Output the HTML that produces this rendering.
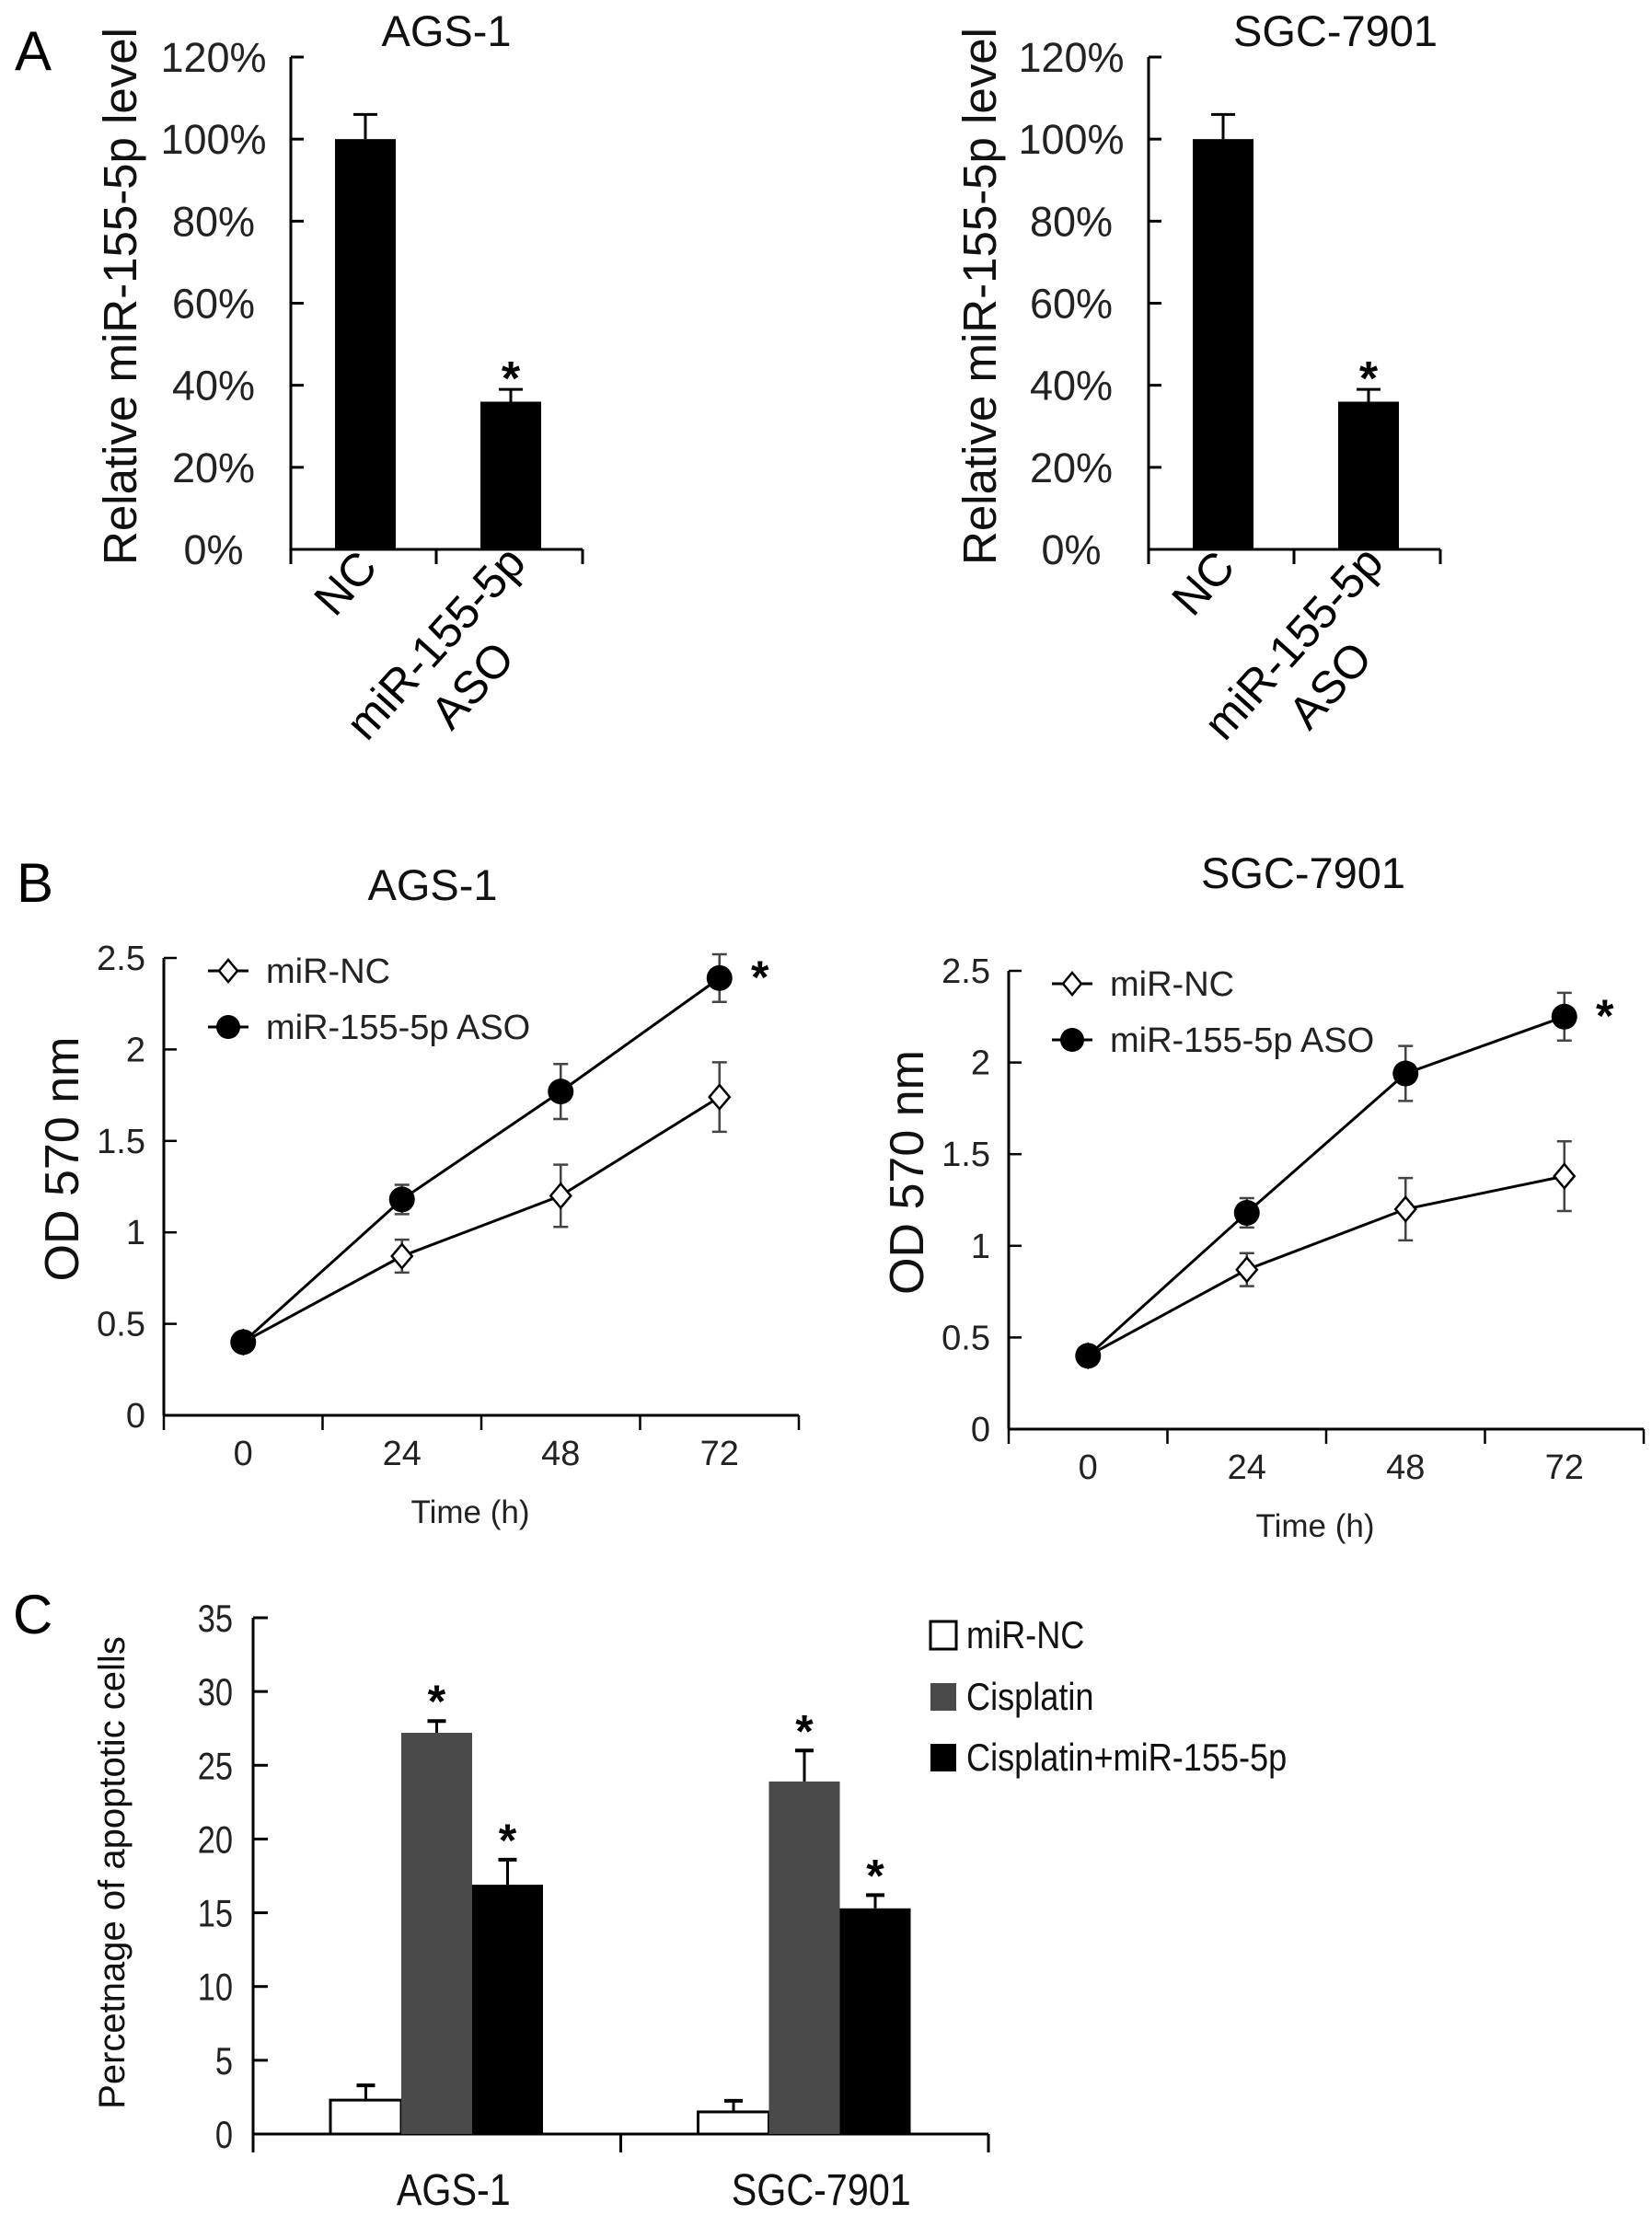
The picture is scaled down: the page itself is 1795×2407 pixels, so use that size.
<!DOCTYPE html>
<html><head><meta charset="utf-8"><style>
html,body{margin:0;padding:0;background:#fff;}
svg{display:block;font-family:"Liberation Sans",Arial,sans-serif;}
</style></head><body>
<svg id="fig" width="1795" height="2407" viewBox="0 0 1795 2407" xmlns="http://www.w3.org/2000/svg"></svg>
<script>
// ---- Panel A data ----
const aCategories = ["NC", "miR-155-5p ASO"];
const aAgsValues = [100, 36];
const aAgsErr = [6, 3];
const aSgcValues = [100, 36];
const aSgcErr = [6, 3];
const aTicks = ["0%","20%","40%","60%","80%","100%","120%"];
// ---- Panel B data ----
const bTimes = ["0","24","48","72"];
const bAgsNC = [0.4, 0.87, 1.2, 1.74];
const bAgsNCErr = [0, 0.09, 0.17, 0.19];
const bAgsASO = [0.4, 1.18, 1.77, 2.39];
const bAgsASOErr = [0, 0.08, 0.15, 0.13];
const bSgcNC = [0.4, 0.87, 1.2, 1.38];
const bSgcNCErr = [0, 0.09, 0.17, 0.19];
const bSgcASO = [0.4, 1.18, 1.94, 2.25];
const bSgcASOErr = [0, 0.08, 0.15, 0.13];
const bTicks = ["0","0.5","1","1.5","2","2.5"];
// ---- Panel C data ----
const cGroups = ["AGS-1", "SGC-7901"];
const cSeries = ["miR-NC", "Cisplatin", "Cisplatin+miR-155-5p"];
const cNC = [2.3, 1.5];
const cNCErr = [1.0, 0.75];
const cCis = [27.2, 23.9];
const cCisErr = [0.8, 2.1];
const cCombo = [16.9, 15.3];
const cComboErr = [1.7, 0.9];
const cTicks = ["0","5","10","15","20","25","30","35"];

const svg = document.getElementById('fig');
const NS = "http://www.w3.org/2000/svg";
function el(tag, attrs, parent){
  const e = document.createElementNS(NS, tag);
  for (const k in attrs) e.setAttribute(k, attrs[k]);
  (parent||svg).appendChild(e); return e;
}
function txt(s, attrs, parent){ const t = el('text', attrs, parent); t.textContent = s; return t; }

let t;
t = txt("A",{x:16,y:76,"font-size":60});
 
t = txt("B",{x:18,y:980,"font-size":60});
 
t = txt("C",{x:14,y:1775,"font-size":60});
 

// ---------- Panel A ----------
function panelA(x0, title, titleX, ylabX, vals, errs, nm){
  const g = el('g',{});
  
  
  const yTop=62, yBot=597, xEnd=x0+317, maxV=120;
  const ys = v => yBot - v/maxV*(yBot-yTop);
  el('line',{x1:x0,y1:yTop,x2:x0,y2:yBot,stroke:"#000","stroke-width":3},g);
  el('line',{x1:x0,y1:yBot,x2:xEnd,y2:yBot,stroke:"#000","stroke-width":3},g);
  [x0, x0+158, xEnd].forEach(x=>el('line',{x1:x, y1:yBot, x2:x, y2:yBot+16, stroke:"#000","stroke-width":3},g));
  aTicks.forEach((lab,i)=>{
    const v = i*20, y = ys(v);
    el('line',{x1:x0,y1:y,x2:x0+14,y2:y,stroke:"#000","stroke-width":3},g);
    const tt = txt(lab,{x:x0-84,y:y+16,"font-size":45,"text-anchor":"middle",fill:"#222"},g);
     
  });
  const bw = 66;
  const centers = [x0+48+bw/2, x0+206+bw/2];
  vals.forEach((v,i)=>{
    const cx = centers[i];
    const r = el('rect',{x:cx-bw/2,y:ys(v),width:bw,height:yBot-ys(v),fill:"#000"},g);
     
    const et = ys(v+errs[i]);
    el('line',{x1:cx,y1:et,x2:cx,y2:ys(v),stroke:"#000","stroke-width":3},g);
    el('line',{x1:cx-13,y1:et,x2:cx+13,y2:et,stroke:"#000","stroke-width":3},g);
    if(i===1){ const s = txt("*",{x:cx,y:et+6,"font-size":52,"text-anchor":"middle","font-weight":"bold"},g);
        }
  });
  const tl = txt(title,{x:titleX,y:50,"font-size":47,"text-anchor":"middle",fill:"#111"},g);
   
  const yl = txt("Relative miR-155-5p level",{x:0,y:0,"font-size":51,"text-anchor":"middle",transform:`translate(${ylabX},322) rotate(-90)`,fill:"#111"},g);
   
  const c1 = txt(aCategories[0],{x:0,y:0,"font-size":50,"text-anchor":"middle",transform:`translate(${x0+72},${645}) rotate(-48)`},g);
   
  const c2 = txt("miR-155-5p",{x:0,y:0,"font-size":50,"text-anchor":"middle",transform:`translate(${x0+170},${710}) rotate(-48)`},g);
   
  const c3 = txt("ASO",{x:0,y:0,"font-size":50,"text-anchor":"middle",transform:`translate(${x0+210},${756}) rotate(-48)`},g);
   
}
panelA(316,"AGS-1",485,148,aAgsValues,aAgsErr,'chart-a-ags1');
panelA(1248,"SGC-7901",1451,1082,aSgcValues,aSgcErr,'chart-a-sgc7901');

// ---------- Panel B ----------
function panelB(x0, yTop, yBot, title, titleX, titleY, nc, ncE, aso, asoE, legX, legY, nm){
  const g = el('g',{});
  
  
  const xEnd = x0+690, maxV=2.5;
  const ys = v => yBot - v/maxV*(yBot-yTop);
  const bin = (xEnd-x0)/4;
  const xs = i => x0 + bin*(i+0.5);
  el('line',{x1:x0,y1:yTop,x2:x0,y2:yBot,stroke:"#000","stroke-width":3},g);
  el('line',{x1:x0,y1:yBot,x2:xEnd,y2:yBot,stroke:"#000","stroke-width":3},g);
  for(let i=0;i<=4;i++){ const x=x0+bin*i; el('line',{x1:x,y1:yBot,x2:x,y2:yBot+16,stroke:"#000","stroke-width":2.5},g); }
  bTicks.forEach((lab,i)=>{
    const y = ys(i*0.5);
    el('line',{x1:x0,y1:y,x2:x0+14,y2:y,stroke:"#000","stroke-width":2.5},g);
    const tt = txt(lab,{x:x0-20,y:y+13,"font-size":38,"text-anchor":"end",fill:"#222"},g);
     
  });
  bTimes.forEach((lab,i)=>{
    const tt = txt(lab,{x:xs(i),y:yBot+54,"font-size":38,"text-anchor":"middle",fill:"#222"},g);
     
  });
  const xt = txt("Time (h)",{x:x0+333,y:yBot+117,"font-size":35,"text-anchor":"middle",fill:"#222"},g);
   
  const yl = txt("OD 570 nm",{x:0,y:0,"font-size":52,"text-anchor":"middle",transform:`translate(${x0-93},${(yTop+yBot)/2-30}) rotate(-90)`,fill:"#111"},g);
   
  const tl = txt(title,{x:titleX,y:titleY,"font-size":47,"text-anchor":"middle",fill:"#111"},g);
   
  function series(vals, errs, kind){
    const pts = vals.map((v,i)=>xs(i)+","+ys(v)).join(" ");
    const pl = el('polyline',{points:pts,fill:"none",stroke:"#000","stroke-width":3},g);
     
    vals.forEach((v,i)=>{
      if(errs[i]>0){
        const x=xs(i);
        el('line',{x1:x,y1:ys(v+errs[i]),x2:x,y2:ys(v-errs[i]),stroke:"#444","stroke-width":2.5},g);
        el('line',{x1:x-8,y1:ys(v+errs[i]),x2:x+8,y2:ys(v+errs[i]),stroke:"#444","stroke-width":2.5},g);
        el('line',{x1:x-8,y1:ys(v-errs[i]),x2:x+8,y2:ys(v-errs[i]),stroke:"#444","stroke-width":2.5},g);
      }
    });
    vals.forEach((v,i)=>{
      const x=xs(i), y=ys(v); let m;
      if(kind==='circle') m = el('circle',{cx:x,cy:y,r:14,fill:"#000"},g);
      else m = el('polygon',{points:`${x},${y-13} ${x+11},${y} ${x},${y+13} ${x-11},${y}`,fill:"#fff",stroke:"#000","stroke-width":2.5},g);
       
    });
    if(kind==='circle'){
      const n=vals.length-1;
      const s = txt("*",{x:xs(n)+44,y:ys(vals[n])+16,"font-size":50,"text-anchor":"middle","font-weight":"bold"},g);
       
    }
  }
  series(nc, ncE, 'diamond');
  series(aso, asoE, 'circle');
  const lg = el('g',{},g);
   
  el('line',{x1:legX-22,y1:legY,x2:legX+22,y2:legY,stroke:"#000","stroke-width":3},lg);
  el('polygon',{points:`${legX},${legY-12} ${legX+10},${legY} ${legX},${legY+12} ${legX-10},${legY}`,fill:"#fff",stroke:"#000","stroke-width":2.5},lg);
  const l1 = txt("miR-NC",{x:legX+41,y:legY+13,"font-size":38,fill:"#222"},lg);
   
  const ly2 = legY+61;
  el('line',{x1:legX-22,y1:ly2,x2:legX+22,y2:ly2,stroke:"#000","stroke-width":3},lg);
  el('circle',{cx:legX,cy:ly2,r:13,fill:"#000"},lg);
  const l2 = txt("miR-155-5p ASO",{x:legX+41,y:ly2+13,"font-size":38,fill:"#222"},lg);
   
}
panelB(178,1041,1538,"AGS-1",470,978,bAgsNC,bAgsNCErr,bAgsASO,bAgsASOErr,248,1055,'chart-b-ags1');
panelB(1096,1055,1553,"SGC-7901",1416,965,bSgcNC,bSgcNCErr,bSgcASO,bSgcASOErr,1165,1069,'chart-b-sgc7901');

// ---------- Panel C ----------
(function(){
  const g = el('g',{});
  
  
  const x0=275, xEnd=1074, yTop=1758, yBot=2319, maxV=35;
  const ys = v => yBot - v/maxV*(yBot-yTop);
  el('line',{x1:x0,y1:yTop,x2:x0,y2:yBot+20,stroke:"#000","stroke-width":3},g);
  el('line',{x1:x0,y1:yBot,x2:xEnd,y2:yBot,stroke:"#000","stroke-width":3},g);
  const gw = (xEnd-x0)/cGroups.length;
  for(let i=0;i<=cGroups.length;i++){ const x=x0+gw*i; el('line',{x1:x,y1:yBot,x2:x,y2:yBot+20,stroke:"#000","stroke-width":3},g); }
  cTicks.forEach((lab,i)=>{
    const y=ys(i*5);
    el('line',{x1:x0,y1:y,x2:x0+16,y2:y,stroke:"#000","stroke-width":3},g);
    const tt = txt(lab,{x:0,y:0,"font-size":42,"text-anchor":"end",fill:"#222",transform:`translate(${x0-22},${y+15}) scale(0.82,1)`},g);
     
  });
  const yl = txt("Percetnage of apoptotic cells",{x:0,y:0,"font-size":40,"text-anchor":"middle",fill:"#111",transform:`translate(135,2035) rotate(-90)`},g);
   
  const bw = 77;
  const fills = ["#fff","#4a4a4a","#000"];
  const allV = [cNC, cCis, cCombo], allE = [cNCErr, cCisErr, cComboErr];
  const names = ['bar-mir-nc','bar-cisplatin','bar-cisplatin-mir155'];
  cGroups.forEach((grp,gi)=>{
    const start = x0 + gw*gi + 84;
    allV.forEach((vals,si)=>{
      const v = vals[gi], e = allE[si][gi];
      const x = start + bw*si, cx = x + bw/2;
      el('line',{x1:cx,y1:ys(v+e),x2:cx,y2:ys(v),stroke:"#000","stroke-width":3},g);
      el('line',{x1:cx-10,y1:ys(v+e),x2:cx+10,y2:ys(v+e),stroke:"#000","stroke-width":4},g);
      const r = el('rect',{x:x,y:ys(v),width:bw,height:yBot-ys(v),fill:fills[si],stroke:"#000","stroke-width":si===0?3:0},g);
       
      if(si>0){ const s = txt("*",{x:cx,y:ys(v+e)-4,"font-size":50,"text-anchor":"middle","font-weight":"bold"},g);
          }
    });
    const cl = txt(grp,{x:0,y:0,"font-size":48,"text-anchor":"middle",fill:"#111",transform:`translate(${x0+gw*gi+gw/2+18},2396) scale(0.86,1)`},g);
     
  });
  const lg = el('g',{},g);
   
  const rows=[1776,1843,1909];
  cSeries.forEach((s,i)=>{
    el('rect',{x:1011,y:rows[i]-14,width:28,height:30,fill:fills[i],stroke:i===0?"#000":"none","stroke-width":3},lg);
    const lt = txt(s,{x:0,y:0,"font-size":42,fill:"#111",transform:`translate(1050,${rows[i]+15}) scale(0.86,1)`},lg);
     
  });
})();
</script>
</body></html>
